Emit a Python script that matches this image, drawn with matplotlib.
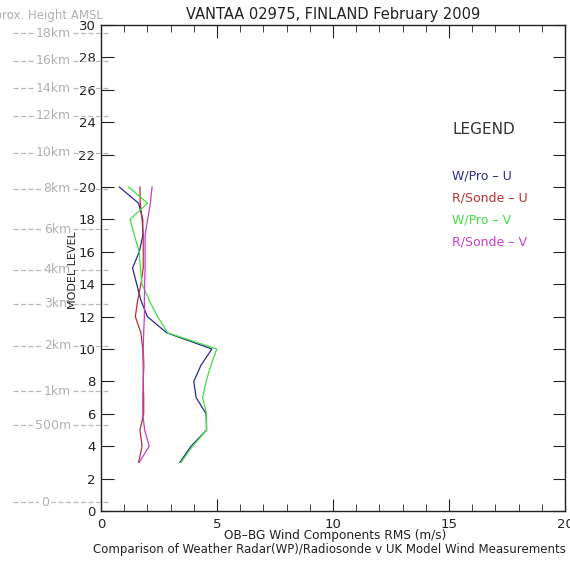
import matplotlib
matplotlib.use("Agg")
import matplotlib.pyplot as plt
import matplotlib.transforms as mtransforms
from matplotlib.lines import Line2D
from matplotlib.ticker import MultipleLocator

levels = [20, 19, 18, 17, 16, 15, 14, 13, 12, 11, 10, 9, 8, 7, 6, 5, 4, 3]
wpro_u = [0.79, 1.62, 1.80, 1.80, 1.65, 1.36, 1.54, 1.72, 2.00, 2.83, 4.78, 4.31, 4.00, 4.10, 4.53, 4.55, 3.88, 3.40]
sonde_u = [1.68, 1.69, 1.77, 1.82, 1.82, 1.82, 1.72, 1.58, 1.48, 1.72, 1.80, 1.82, 1.82, 1.84, 1.84, 1.68, 1.77, 1.62]
wpro_v = [1.19, 2.01, 1.25, 1.44, 1.65, 1.70, 1.77, 2.08, 2.44, 2.87, 4.99, 4.74, 4.53, 4.38, 4.55, 4.55, 3.95, 3.45]
sonde_v = [2.20, 2.13, 2.01, 1.90, 1.90, 1.90, 1.88, 1.87, 1.87, 1.84, 1.82, 1.85, 1.82, 1.80, 1.80, 1.88, 2.08, 1.65]

series_names = ["W/Pro – U", "R/Sonde – U", "W/Pro – V", "R/Sonde – V"]
series_colors = ["#2a2a8c", "#b83030", "#44dd44", "#c83cc8"]

height_labels = ["18km", "16km", "14km", "12km", "10km", "8km", "6km", "4km",
                 "3km", "2km", "1km", "500m", "0"]
height_levels = [29.5, 27.8, 26.1, 24.4, 22.1, 19.9, 17.4, 14.9, 12.8, 10.2, 7.4, 5.3, 0.55]

W, H = 570, 561
fig = plt.figure(figsize=(W / 100, H / 100), dpi=100)
ax = fig.add_axes([101 / W, 1 - 511 / H, 464 / W, 486 / H])

for vals, c in zip([wpro_u, sonde_u, wpro_v, sonde_v], series_colors):
    ax.plot(vals, levels, color=c, lw=0.9)

ax.set_xlim(0, 20)
ax.set_ylim(0, 30)
ax.xaxis.set_major_locator(MultipleLocator(5))
ax.xaxis.set_minor_locator(MultipleLocator(1))
ax.yaxis.set_major_locator(MultipleLocator(2))
ax.tick_params(axis="both", which="both", direction="in", top=True, right=True,
               labelsize=9.5, color="#222222", labelcolor="#222222")
ax.tick_params(axis="both", which="major", length=9)
ax.tick_params(axis="x", which="minor", length=5)
ax.tick_params(axis="x", pad=5)
ax.tick_params(axis="y", pad=4)
for s in ax.spines.values():
    s.set_color("#222222")
    s.set_linewidth(1.0)

ax.set_title("VANTAA 02975, FINLAND February 2009", fontsize=10.5, pad=4, color="#222222")
fig.text(73 / W, 1 - 270 / H, "MODEL LEVEL", fontsize=8, color="#222222", rotation=90,
         ha="center", va="center", zorder=6)
fig.text(335 / W, 1 - 536 / H, "OB–BG Wind Components RMS (m/s)", fontsize=8.7,
         color="#222222", ha="center", va="center")
fig.text(329 / W, 1 - 550 / H,
         "Comparison of Weather Radar(WP)/Radiosonde v UK Model Wind Measurements",
         fontsize=8.5, color="#222222", ha="center", va="center")

# legend as text
ax.text((453 - 101) / 464, (511 - 130) / 486, "LEGEND", transform=ax.transAxes,
        fontsize=11, color="#333333", ha="left", va="center")
for i, (name, c) in enumerate(zip(series_names, series_colors)):
    ax.text((452 - 101) / 464, (511 - 176 - i * 22) / 486, name, transform=ax.transAxes,
            fontsize=9, color=c, ha="left", va="center")

# approximate height annotations
trans = mtransforms.blended_transform_factory(fig.transFigure, ax.transData)
for lab, lv in zip(height_labels, height_levels):
    fig.lines.append(Line2D([13 / W, 110 / W], [lv, lv], transform=trans, color="#b8b8b8",
                            lw=0.9, ls=(0, (4, 2)), zorder=1))
    if lab == "0":
        fig.text(45 / W, lv, lab, transform=trans, fontsize=9, color="#b0b0b0",
                 ha="center", va="center", zorder=2,
                 bbox=dict(facecolor="white", edgecolor="none", pad=1.5))
    else:
        fig.text(71 / W, lv, lab, transform=trans, fontsize=9, color="#b0b0b0",
                 ha="right", va="center", zorder=2,
                 bbox=dict(facecolor="white", edgecolor="none", pad=1.5))
fig.text(103 / W, 1 - 15 / H, "Approx. Height AMSL", fontsize=8.5, color="#b0b0b0",
         ha="right", va="center")

fig.savefig("out.png", dpi=100)
